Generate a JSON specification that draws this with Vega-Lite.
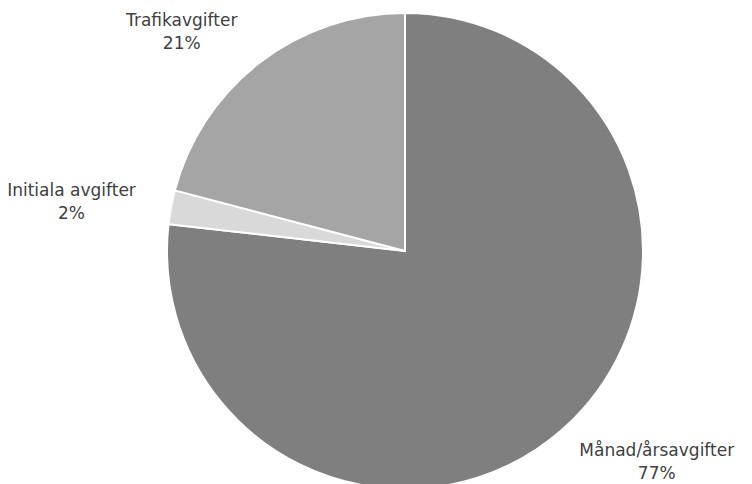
{
  "$schema": "https://vega.github.io/schema/vega-lite/v6.json",
  "width": 694,
  "height": 466,
  "autosize": {"type": "none"},
  "padding": {"left": 58, "top": 18, "right": 0, "bottom": 0},
  "background": "white",
  "config": {"view": {"stroke": null}},
  "data": {
    "values": [
      {"category": "Månad/årsavgifter", "value": 76.8, "label": "Månad/årsavgifter\n77%", "idx": 1},
      {"category": "Initiala avgifter", "value": 2.3, "label": "Initiala avgifter\n2%", "idx": 2},
      {"category": "Trafikavgifter", "value": 20.9, "label": "Trafikavgifter\n21%", "idx": 3}
    ]
  },
  "encoding": {
    "theta": {"field": "value", "type": "quantitative", "stack": true},
    "order": {"field": "idx", "type": "quantitative"}
  },
  "layer": [
    {
      "mark": {"type": "arc", "outerRadius": 238, "stroke": "white", "strokeWidth": 2},
      "encoding": {
        "color": {
          "field": "category",
          "type": "nominal",
          "scale": {
            "domain": ["Månad/årsavgifter", "Initiala avgifter", "Trafikavgifter"],
            "range": ["#7f7f7f", "#d9d9d9", "#a5a5a5"]
          },
          "legend": null
        }
      }
    },
    {
      "mark": {
        "type": "text",
        "radius": 258,
        "align": "center",
        "baseline": {"expr": "abs((datum.value_start+datum.value_end)/200-0.75)<0.07 || abs((datum.value_start+datum.value_end)/200-0.25)<0.07 ? 'middle' : (((datum.value_start+datum.value_end)/200<0.25 || (datum.value_start+datum.value_end)/200>0.75) ? 'bottom' : 'top')"},
        "dx": {"expr": "((datum.value_start+datum.value_end)/2 > 50 ? -1 : 1) * length(datum.category) * 4.7"},
        "dy": {"expr": "abs((datum.value_start+datum.value_end)/200-0.75)<0.07 || abs((datum.value_start+datum.value_end)/200-0.25)<0.07 ? -12 : (((datum.value_start+datum.value_end)/200<0.25 || (datum.value_start+datum.value_end)/200>0.75) ? -17 : 0)"},
        "lineBreak": "\n",
        "lineHeight": 23,
        "font": "DejaVu Sans",
        "fontSize": 17,
        "fill": "#404040"
      },
      "encoding": {
        "text": {"field": "label", "type": "nominal"}
      }
    }
  ]
}
